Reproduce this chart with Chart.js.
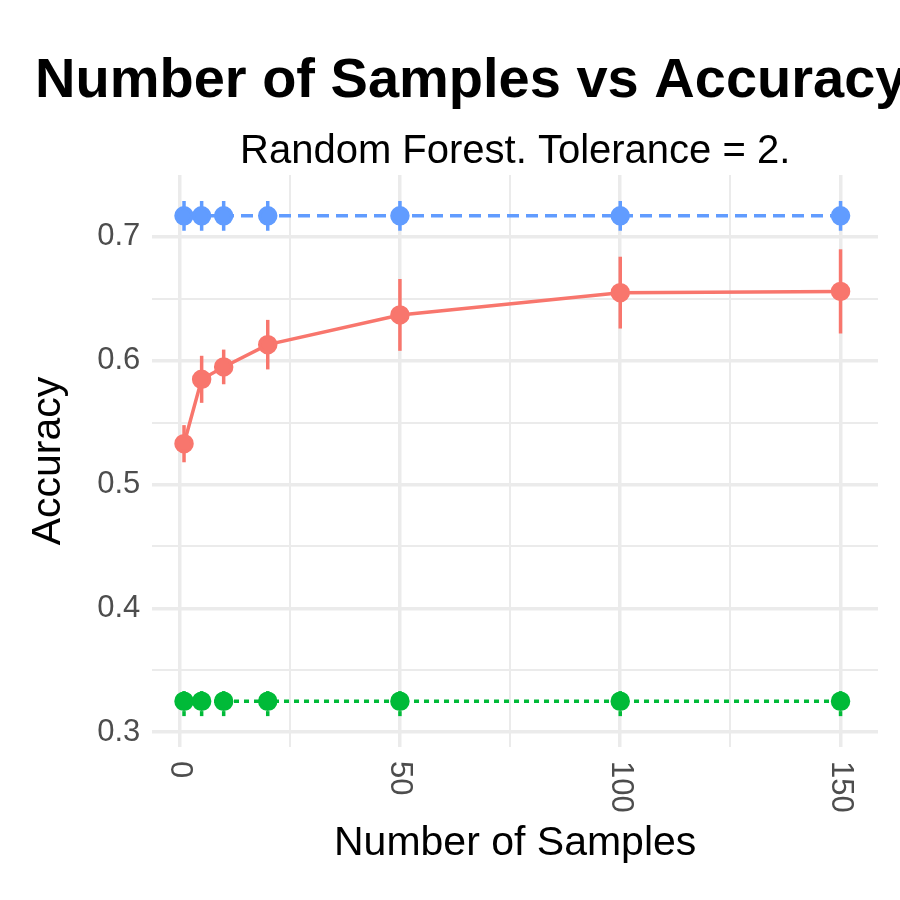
<!DOCTYPE html>
<html>
<head>
<meta charset="utf-8">
<script src="https://cdn.jsdelivr.net/npm/chart.js@4/dist/chart.umd.min.js"></script>
<style>
  html, body { margin: 0; padding: 0; background: #fff; }
  #wrap { width: 900px; height: 900px; }
</style>
</head>
<body>
<div id="wrap"><canvas id="chart"></canvas></div>
<script>
const samples = [1, 5, 10, 20, 50, 100, 150];
const rfAcc = [0.533, 0.585, 0.595, 0.613, 0.637, 0.655, 0.656];
const rfErr = [0.015, 0.019, 0.014, 0.020, 0.029, 0.029, 0.034];
const topAcc = [0.717, 0.717, 0.717, 0.717, 0.717, 0.717, 0.717];
const topErr = [0.012, 0.012, 0.012, 0.012, 0.012, 0.012, 0.012];
const lowAcc = [0.325, 0.325, 0.325, 0.325, 0.325, 0.325, 0.325];
const lowErr = [0.012, 0.012, 0.012, 0.012, 0.012, 0.012, 0.012];
const xTickLabels = [0, 50, 100, 150];

const FONT = '"Liberation Sans", Arial, sans-serif';

function series(vals, errs, color, dash) {
    return {
        data: samples.map((x, i) => ({ x: x, y: vals[i] })),
        errors: errs,
        borderColor: color,
        backgroundColor: color,
        borderWidth: 3.5,
        borderDash: dash,
        pointRadius: 8,
        pointHoverRadius: 8,
        tension: 0
    };
}

// error bars drawn through the scales
const errorBars = {
    id: 'errorBars',
    beforeDatasetsDraw(chart) {
        const ctx = chart.ctx;
        const xs = chart.scales.x, ys = chart.scales.y;
        chart.data.datasets.forEach(ds => {
            ctx.save();
            ctx.strokeStyle = ds.borderColor;
            ctx.lineWidth = 3.5;
            ctx.setLineDash(ds.borderDash);
            ds.data.forEach((p, i) => {
                const px = xs.getPixelForValue(p.x);
                ctx.beginPath();
                ctx.moveTo(px, ys.getPixelForValue(p.y - ds.errors[i]));
                ctx.lineTo(px, ys.getPixelForValue(p.y + ds.errors[i]));
                ctx.stroke();
            });
            ctx.restore();
        });
    }
};

const titles = {
    id: 'titles',
    afterDraw(chart) {
        const ctx = chart.ctx;
        const area = chart.chartArea;
        const xs = chart.scales.x;
        ctx.save();
        ctx.fillStyle = '#000';
        ctx.textBaseline = 'alphabetic';
        ctx.font = 'bold 56px ' + FONT;
        ctx.textAlign = 'left';
        ctx.fillText('Number of Samples vs Accuracy', 35, 97);
        ctx.font = '40px ' + FONT;
        ctx.textAlign = 'center';
        ctx.fillText('Random Forest. Tolerance = 2.', (area.left + area.right) / 2, 163);
        // x tick labels rotated clockwise (read top to bottom)
        ctx.fillStyle = '#4d4d4d';
        ctx.font = '31px ' + FONT;
        xTickLabels.forEach(v => {
            ctx.save();
            ctx.translate(xs.getPixelForValue(v), area.bottom + 14);
            ctx.rotate(Math.PI / 2);
            ctx.textAlign = 'left';
            ctx.textBaseline = 'middle';
            ctx.fillText(String(v), 0, 0);
            ctx.restore();
        });
        ctx.restore();
    }
};

new Chart(document.getElementById('chart'), {
    type: 'line',
    data: {
        datasets: [
            series(topAcc, topErr, '#619CFF', [12, 7]),
            series(rfAcc, rfErr, '#F8766D', []),
            series(lowAcc, lowErr, '#00BA38', [5, 5])
        ]
    },
    options: {
        responsive: true,
        maintainAspectRatio: false,
        animation: false,
        layout: { padding: { top: 175, right: 22, left: 20, bottom: 28 } },
        plugins: {
            legend: { display: false },
            tooltip: { enabled: false }
        },
        scales: {
            x: {
                type: 'linear',
                min: -6.2,
                max: 158.5,
                border: { display: false },
                grid: {
                    color: '#ebebeb',
                    lineWidth: c => (c.tick && c.tick.value % 50 === 0) ? 3.5 : 2,
                    drawTicks: false
                },
                afterBuildTicks: axis => {
                    axis.ticks = [0, 25, 50, 75, 100, 125, 150].map(v => ({ value: v }));
                },
                ticks: {
                    autoSkip: false,
                    maxRotation: 90,
                    minRotation: 90,
                    padding: 8,
                    color: 'rgba(0,0,0,0)',
                    font: { family: FONT, size: 31 },
                    callback: v => (v % 50 === 0 ? String(v) : '')
                },
                title: {
                    display: true,
                    text: 'Number of Samples',
                    color: '#000',
                    font: { family: FONT, size: 41 },
                    padding: { top: 4 }
                }
            },
            y: {
                min: 0.288,
                max: 0.75,
                border: { display: false },
                grid: {
                    color: '#ebebeb',
                    lineWidth: c => (c.tick && Math.round(c.tick.value * 100) % 10 === 0) ? 3.5 : 2,
                    drawTicks: false
                },
                afterBuildTicks: axis => {
                    axis.ticks = [0.3, 0.35, 0.4, 0.45, 0.5, 0.55, 0.6, 0.65, 0.7].map(v => ({ value: v }));
                },
                ticks: {
                    autoSkip: false,
                    padding: 12,
                    color: '#4d4d4d',
                    font: { family: FONT, size: 31 },
                    callback: v => (Math.round(v * 100) % 10 === 0 ? v.toFixed(1) : '')
                },
                title: {
                    display: true,
                    text: 'Accuracy',
                    color: '#000',
                    font: { family: FONT, size: 41 },
                    padding: { bottom: 12 }
                }
            }
        }
    },
    plugins: [errorBars, titles]
});
</script>
</body>
</html>
